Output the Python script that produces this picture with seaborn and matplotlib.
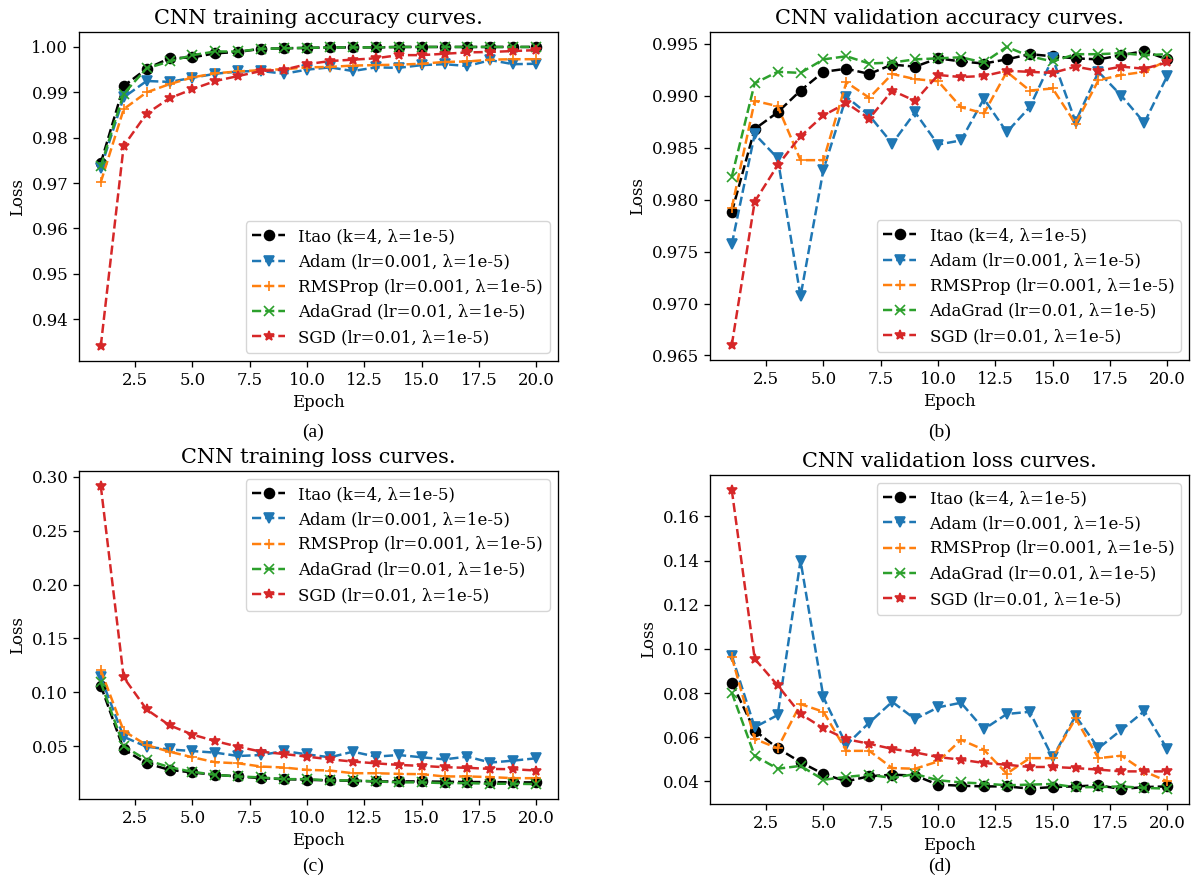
import matplotlib
matplotlib.use("Agg")
import matplotlib.pyplot as plt
import seaborn as sns

# Epochs shared by every panel
epochs = list(range(1, 21))

names = [
    "Itao (k=4, λ=1e-5)",
    "Adam (lr=0.001, λ=1e-5)",
    "RMSProp (lr=0.001, λ=1e-5)",
    "AdaGrad (lr=0.01, λ=1e-5)",
    "SGD (lr=0.01, λ=1e-5)",
]
colors = ["black", "#1f77b4", "#ff7f0e", "#2ca02c", "#d62728"]
markers = ["o", "v", "+", "x", "*"]

# (a) training accuracy
itao_train_acc = [0.9744, 0.9914, 0.9952, 0.9975, 0.9977, 0.9986, 0.9989, 0.9996, 0.9997, 0.9998,
                  0.9999, 0.9999, 0.9999, 1.0000, 1.0000, 1.0000, 1.0000, 1.0000, 1.0000, 1.0000]
adam_train_acc = [0.9733, 0.9889, 0.9925, 0.9923, 0.9932, 0.9941, 0.9946, 0.9947, 0.9941, 0.9950,
                  0.9955, 0.9947, 0.9955, 0.9954, 0.9960, 0.9962, 0.9958, 0.9971, 0.9962, 0.9963]
rms_train_acc = [0.9702, 0.9863, 0.9900, 0.9918, 0.9933, 0.9942, 0.9946, 0.9949, 0.9951, 0.9955,
                 0.9956, 0.9959, 0.9960, 0.9961, 0.9963, 0.9967, 0.9968, 0.9972, 0.9973, 0.9973]
ada_train_acc = [0.9737, 0.9897, 0.9953, 0.9968, 0.9982, 0.9990, 0.9990, 0.9996, 0.9997, 0.9998,
                 0.9999, 0.9999, 0.9999, 1.0000, 1.0000, 1.0000, 1.0000, 1.0000, 1.0000, 1.0000]
sgd_train_acc = [0.9341, 0.9782, 0.9853, 0.9887, 0.9907, 0.9925, 0.9936, 0.9947, 0.9950, 0.9962,
                 0.9969, 0.9972, 0.9975, 0.9982, 0.9982, 0.9985, 0.9988, 0.9989, 0.9991, 0.9993]

# (b) validation accuracy
itao_val_acc = [0.9788, 0.9868, 0.9884, 0.9905, 0.9923, 0.9926, 0.9921, 0.9930, 0.9928, 0.9936,
                0.9933, 0.9931, 0.9935, 0.9940, 0.9938, 0.9936, 0.9935, 0.9939, 0.9943, 0.9935]
adam_val_acc = [0.9757, 0.9863, 0.9840, 0.9707, 0.9829, 0.9899, 0.9881, 0.9854, 0.9884, 0.9853,
                0.9857, 0.9897, 0.9865, 0.9889, 0.9936, 0.9875, 0.9923, 0.9900, 0.9874, 0.9919]
rms_val_acc = [0.9792, 0.9895, 0.9890, 0.9838, 0.9838, 0.9913, 0.9898, 0.9921, 0.9916, 0.9914,
               0.9889, 0.9883, 0.9923, 0.9905, 0.9907, 0.9873, 0.9915, 0.9920, 0.9923, 0.9934]
ada_val_acc = [0.9822, 0.9912, 0.9923, 0.9922, 0.9935, 0.9938, 0.9931, 0.9932, 0.9935, 0.9936,
               0.9937, 0.9932, 0.9947, 0.9938, 0.9933, 0.9940, 0.9940, 0.9941, 0.9939, 0.9940]
sgd_val_acc = [0.9660, 0.9798, 0.9833, 0.9861, 0.9881, 0.9893, 0.9878, 0.9905, 0.9895, 0.9920,
               0.9918, 0.9919, 0.9924, 0.9923, 0.9922, 0.9928, 0.9924, 0.9928, 0.9926, 0.9932]

# (c) training loss
itao_train_loss = [0.1061, 0.0469, 0.0340, 0.0279, 0.0255, 0.0233, 0.0218, 0.0202, 0.0193, 0.0187,
                   0.0181, 0.0178, 0.0172, 0.0172, 0.0172, 0.0169, 0.0166, 0.0166, 0.0163, 0.0163]
adam_train_loss = [0.1138, 0.0586, 0.0494, 0.0469, 0.0454, 0.0439, 0.0408, 0.0417, 0.0454, 0.0423,
                   0.0396, 0.0448, 0.0402, 0.0417, 0.0396, 0.0377, 0.0402, 0.0347, 0.0365, 0.0387]
rms_train_loss = [0.1206, 0.0641, 0.0509, 0.0448, 0.0396, 0.0350, 0.0340, 0.0310, 0.0301, 0.0279,
                  0.0273, 0.0248, 0.0248, 0.0242, 0.0239, 0.0218, 0.0218, 0.0212, 0.0202, 0.0202]
ada_train_loss = [0.1092, 0.0500, 0.0371, 0.0304, 0.0261, 0.0233, 0.0218, 0.0209, 0.0193, 0.0193,
                  0.0181, 0.0181, 0.0172, 0.0163, 0.0163, 0.0156, 0.0156, 0.0150, 0.0150, 0.0147]
sgd_train_loss = [0.2917, 0.1138, 0.0840, 0.0693, 0.0607, 0.0546, 0.0494, 0.0448, 0.0426, 0.0402,
                  0.0377, 0.0356, 0.0340, 0.0325, 0.0316, 0.0304, 0.0298, 0.0288, 0.0285, 0.0273]

# (d) validation loss
itao_val_loss = [0.0847, 0.0630, 0.0550, 0.0487, 0.0433, 0.0400, 0.0423, 0.0430, 0.0426, 0.0385,
                 0.0380, 0.0377, 0.0377, 0.0367, 0.0374, 0.0377, 0.0382, 0.0365, 0.0374, 0.0377]
adam_val_loss = [0.0970, 0.0645, 0.0700, 0.1400, 0.0780, 0.0565, 0.0666, 0.0760, 0.0682, 0.0735,
                 0.0756, 0.0636, 0.0705, 0.0715, 0.0508, 0.0696, 0.0550, 0.0633, 0.0718, 0.0546]
rms_val_loss = [0.0963, 0.0592, 0.0550, 0.0750, 0.0715, 0.0538, 0.0538, 0.0460, 0.0457, 0.0490,
                0.0588, 0.0543, 0.0435, 0.0505, 0.0505, 0.0685, 0.0505, 0.0516, 0.0445, 0.0400]
ada_val_loss = [0.0802, 0.0516, 0.0457, 0.0470, 0.0407, 0.0420, 0.0430, 0.0415, 0.0433, 0.0405,
                0.0395, 0.0390, 0.0382, 0.0385, 0.0388, 0.0373, 0.0374, 0.0377, 0.0370, 0.0367]
sgd_val_loss = [0.1720, 0.0955, 0.0835, 0.0705, 0.0640, 0.0591, 0.0570, 0.0547, 0.0531, 0.0510,
                0.0498, 0.0483, 0.0475, 0.0465, 0.0465, 0.0460, 0.0453, 0.0445, 0.0445, 0.0445]

panels = [
    ("CNN training accuracy curves.", "(a)",
     [itao_train_acc, adam_train_acc, rms_train_acc, ada_train_acc, sgd_train_acc], "lower right"),
    ("CNN validation accuracy curves.", "(b)",
     [itao_val_acc, adam_val_acc, rms_val_acc, ada_val_acc, sgd_val_acc], "lower right"),
    ("CNN training loss curves.", "(c)",
     [itao_train_loss, adam_train_loss, rms_train_loss, ada_train_loss, sgd_train_loss], "upper right"),
    ("CNN validation loss curves.", "(d)",
     [itao_val_loss, adam_val_loss, rms_val_loss, ada_val_loss, sgd_val_loss], "upper right"),
]

# axes boxes in pixels: left, top, right, bottom
boxes = [(79, 32, 558, 361), (710, 32, 1189, 360), (79, 471, 558, 799), (710, 475, 1189, 804)]
captions = [(313, 432), (940, 432), (313, 866), (940, 866)]

s = 1.19
plt.rcParams.update({
    "font.family": "serif",
    "font.size": 10 * s,
    "axes.titlesize": 15,
    "axes.labelsize": 10 * s,
    "xtick.labelsize": 10 * s,
    "ytick.labelsize": 10 * s,
    "legend.fontsize": 10 * s,
    "axes.linewidth": 0.8 * s,
    "xtick.major.size": 3.5 * s,
    "ytick.major.size": 3.5 * s,
    "xtick.major.width": 0.8 * s,
    "ytick.major.width": 0.8 * s,
})

W, H = 1193, 877
fig = plt.figure(figsize=(W / 100, H / 100), dpi=100)

for (title, cap, series, loc), (l, t, r, b), (cx, cy) in zip(panels, boxes, captions):
    ax = fig.add_axes([l / W, 1 - b / H, (r - l) / W, (b - t) / H])
    for name, vals, c, m in zip(names, series, colors, markers):
        sns.lineplot(x=epochs, y=vals, ax=ax, color=c, marker=m, linestyle="--",
                     linewidth=1.5 * s, markersize=6 * s, markeredgecolor=c,
                     markeredgewidth=1.0 * s, label=name)
    ax.set_title(title)
    ax.set_xlabel("Epoch")
    ax.set_ylabel("Loss")
    ax.legend(loc=loc)
    fig.text(cx / W, 1 - cy / H, cap, ha="center", va="center",
             family="Liberation Serif", fontsize=14)

fig.savefig("out.png", dpi=100)
